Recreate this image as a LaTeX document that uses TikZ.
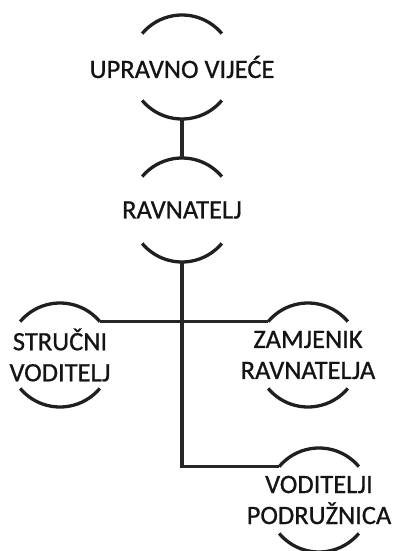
\documentclass[tikz,border=0pt]{standalone}
\usepackage{fontspec}
\setmainfont{Carlito}
\newfontfamily\orgfont[FakeBold=0.8]{Carlito}
\usetikzlibrary{positioning}

\newcommand{\rad}{52pt}

\begin{document}
\begin{tikzpicture}[node distance=145pt]

    % Define styles
    \tikzset{
        unit/.style = {align=center, inner sep=0pt, font=\orgfont\fontsize{26.5}{31}\selectfont, text=black!92},
        rim/.style = {line width=3.3pt, black!88},
        link/.style = {line width=3.1pt, black!85}
    }

    \useasboundingbox (0,0) rectangle (393pt,-551pt);

    % Nodes
    \node (uv) [unit] at (182pt,-67pt) {UPRAVNO VIJEĆE};
    \node (rav) [unit, below of=uv, node distance=143pt] {RAVNATELJ};
    \node (sv) [unit, below of=rav, xshift=-122pt] {STRUČNI\\VODITELJ};
    \node (zr) [unit, below of=rav, xshift=126pt] {ZAMJENIK\\RAVNATELJA};
    \node (vp) [unit, below of=zr, xshift=11pt] {VODITELJI\\PODRUŽNICA};

    % Arcs round the nodes
    \foreach \n in {uv, rav, sv, zr, vp} {
        \draw [rim] ([shift={(40:\rad)}]\n.center) arc[start angle=40, end angle=140, radius=\rad];
        \draw [rim] ([shift={(220:\rad)}]\n.center) arc[start angle=220, end angle=320, radius=\rad];
    }

    % Lines
    \draw [link] ([yshift=-\rad]uv.center) -- ([yshift=\rad]rav.center);
    \draw [link] ([shift={(40:\rad)}]sv.center) -- ([shift={(140:\rad)}]zr.center);
    \draw [link] ([yshift=-\rad]rav.center) |- ([shift={(140:\rad)}]vp.center);
\end{tikzpicture}
\end{document}
